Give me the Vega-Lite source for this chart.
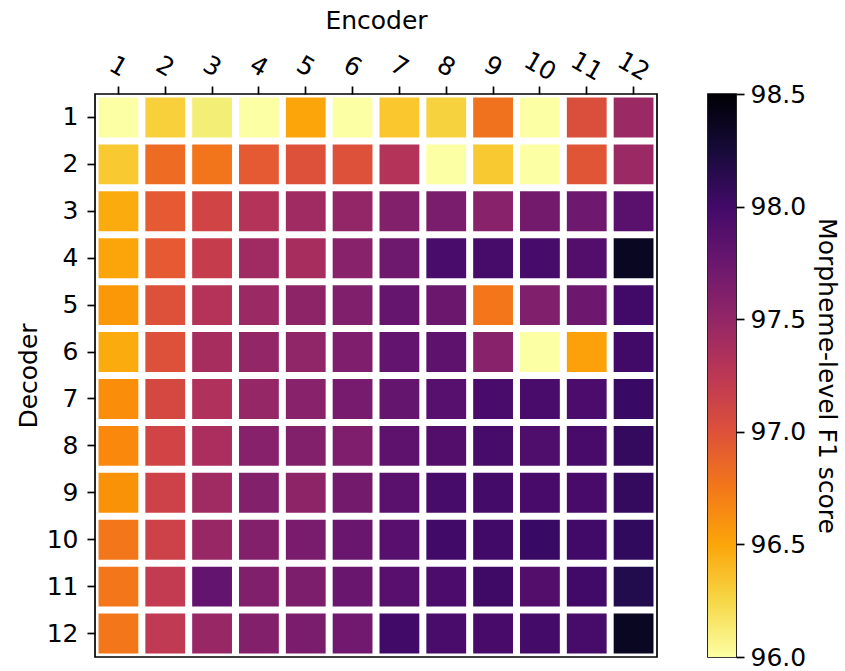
{
  "$schema": "https://vega.github.io/schema/vega-lite/v6.json",
  "autosize": {"type": "pad"},
  "padding": {"left": 15, "top": 7, "right": 0, "bottom": 5},
  "background": "white",
  "spacing": 49,
  "config": {
    "font": "DejaVu Sans",
    "view": {"stroke": "black", "strokeWidth": 1.7},
    "axis": {"labelFont": "DejaVu Sans", "titleFont": "DejaVu Sans", "labelFontSize": 25, "titleFontSize": 25, "titleFontWeight": "normal", "labelColor": "black", "titleColor": "black", "tickColor": "black", "tickSize": 8, "tickWidth": 1.7, "domain": false, "grid": false}
  },
  "hconcat": [
    {
      "width": 562,
      "height": 563,
      "data": {"values": [
        {"dec":1,"enc":1,"f1":96.0},{"dec":1,"enc":2,"f1":96.28},{"dec":1,"enc":3,"f1":96.12},{"dec":1,"enc":4,"f1":96.0},{"dec":1,"enc":5,"f1":96.5},{"dec":1,"enc":6,"f1":96.0},{"dec":1,"enc":7,"f1":96.33},{"dec":1,"enc":8,"f1":96.27},{"dec":1,"enc":9,"f1":96.78},{"dec":1,"enc":10,"f1":96.0},{"dec":1,"enc":11,"f1":97.02},{"dec":1,"enc":12,"f1":97.45},
        {"dec":2,"enc":1,"f1":96.32},{"dec":2,"enc":2,"f1":96.82},{"dec":2,"enc":3,"f1":96.76},{"dec":2,"enc":4,"f1":96.93},{"dec":2,"enc":5,"f1":97.0},{"dec":2,"enc":6,"f1":97.0},{"dec":2,"enc":7,"f1":97.3},{"dec":2,"enc":8,"f1":96.0},{"dec":2,"enc":9,"f1":96.32},{"dec":2,"enc":10,"f1":96.0},{"dec":2,"enc":11,"f1":96.97},{"dec":2,"enc":12,"f1":97.45},
        {"dec":3,"enc":1,"f1":96.47},{"dec":3,"enc":2,"f1":96.93},{"dec":3,"enc":3,"f1":97.1},{"dec":3,"enc":4,"f1":97.3},{"dec":3,"enc":5,"f1":97.42},{"dec":3,"enc":6,"f1":97.5},{"dec":3,"enc":7,"f1":97.6},{"dec":3,"enc":8,"f1":97.65},{"dec":3,"enc":9,"f1":97.57},{"dec":3,"enc":10,"f1":97.7},{"dec":3,"enc":11,"f1":97.73},{"dec":3,"enc":12,"f1":97.85},
        {"dec":4,"enc":1,"f1":96.5},{"dec":4,"enc":2,"f1":96.93},{"dec":4,"enc":3,"f1":97.18},{"dec":4,"enc":4,"f1":97.42},{"dec":4,"enc":5,"f1":97.38},{"dec":4,"enc":6,"f1":97.57},{"dec":4,"enc":7,"f1":97.73},{"dec":4,"enc":8,"f1":97.95},{"dec":4,"enc":9,"f1":97.97},{"dec":4,"enc":10,"f1":97.97},{"dec":4,"enc":11,"f1":97.9},{"dec":4,"enc":12,"f1":98.35},
        {"dec":5,"enc":1,"f1":96.57},{"dec":5,"enc":2,"f1":97.0},{"dec":5,"enc":3,"f1":97.3},{"dec":5,"enc":4,"f1":97.45},{"dec":5,"enc":5,"f1":97.53},{"dec":5,"enc":6,"f1":97.62},{"dec":5,"enc":7,"f1":97.78},{"dec":5,"enc":8,"f1":97.75},{"dec":5,"enc":9,"f1":96.75},{"dec":5,"enc":10,"f1":97.62},{"dec":5,"enc":11,"f1":97.74},{"dec":5,"enc":12,"f1":98.0},
        {"dec":6,"enc":1,"f1":96.47},{"dec":6,"enc":2,"f1":97.0},{"dec":6,"enc":3,"f1":97.38},{"dec":6,"enc":4,"f1":97.5},{"dec":6,"enc":5,"f1":97.52},{"dec":6,"enc":6,"f1":97.63},{"dec":6,"enc":7,"f1":97.8},{"dec":6,"enc":8,"f1":97.83},{"dec":6,"enc":9,"f1":97.57},{"dec":6,"enc":10,"f1":96.0},{"dec":6,"enc":11,"f1":96.52},{"dec":6,"enc":12,"f1":98.0},
        {"dec":7,"enc":1,"f1":96.62},{"dec":7,"enc":2,"f1":97.07},{"dec":7,"enc":3,"f1":97.32},{"dec":7,"enc":4,"f1":97.48},{"dec":7,"enc":5,"f1":97.57},{"dec":7,"enc":6,"f1":97.68},{"dec":7,"enc":7,"f1":97.79},{"dec":7,"enc":8,"f1":97.87},{"dec":7,"enc":9,"f1":97.95},{"dec":7,"enc":10,"f1":97.95},{"dec":7,"enc":11,"f1":97.94},{"dec":7,"enc":12,"f1":98.05},
        {"dec":8,"enc":1,"f1":96.65},{"dec":8,"enc":2,"f1":97.1},{"dec":8,"enc":3,"f1":97.36},{"dec":8,"enc":4,"f1":97.58},{"dec":8,"enc":5,"f1":97.6},{"dec":8,"enc":6,"f1":97.63},{"dec":8,"enc":7,"f1":97.83},{"dec":8,"enc":8,"f1":97.9},{"dec":8,"enc":9,"f1":97.97},{"dec":8,"enc":10,"f1":97.92},{"dec":8,"enc":11,"f1":97.96},{"dec":8,"enc":12,"f1":98.08},
        {"dec":9,"enc":1,"f1":96.6},{"dec":9,"enc":2,"f1":97.12},{"dec":9,"enc":3,"f1":97.42},{"dec":9,"enc":4,"f1":97.6},{"dec":9,"enc":5,"f1":97.53},{"dec":9,"enc":6,"f1":97.7},{"dec":9,"enc":7,"f1":97.85},{"dec":9,"enc":8,"f1":97.97},{"dec":9,"enc":9,"f1":97.98},{"dec":9,"enc":10,"f1":97.96},{"dec":9,"enc":11,"f1":97.96},{"dec":9,"enc":12,"f1":98.08},
        {"dec":10,"enc":1,"f1":96.75},{"dec":10,"enc":2,"f1":97.12},{"dec":10,"enc":3,"f1":97.47},{"dec":10,"enc":4,"f1":97.6},{"dec":10,"enc":5,"f1":97.66},{"dec":10,"enc":6,"f1":97.77},{"dec":10,"enc":7,"f1":97.87},{"dec":10,"enc":8,"f1":98.0},{"dec":10,"enc":9,"f1":98.0},{"dec":10,"enc":10,"f1":98.05},{"dec":10,"enc":11,"f1":98.0},{"dec":10,"enc":12,"f1":98.1},
        {"dec":11,"enc":1,"f1":96.75},{"dec":11,"enc":2,"f1":97.2},{"dec":11,"enc":3,"f1":97.8},{"dec":11,"enc":4,"f1":97.62},{"dec":11,"enc":5,"f1":97.64},{"dec":11,"enc":6,"f1":97.77},{"dec":11,"enc":7,"f1":97.87},{"dec":11,"enc":8,"f1":97.94},{"dec":11,"enc":9,"f1":98.02},{"dec":11,"enc":10,"f1":97.9},{"dec":11,"enc":11,"f1":98.0},{"dec":11,"enc":12,"f1":98.17},
        {"dec":12,"enc":1,"f1":96.75},{"dec":12,"enc":2,"f1":97.22},{"dec":12,"enc":3,"f1":97.47},{"dec":12,"enc":4,"f1":97.6},{"dec":12,"enc":5,"f1":97.65},{"dec":12,"enc":6,"f1":97.72},{"dec":12,"enc":7,"f1":98.0},{"dec":12,"enc":8,"f1":97.95},{"dec":12,"enc":9,"f1":97.96},{"dec":12,"enc":10,"f1":97.98},{"dec":12,"enc":11,"f1":97.97},{"dec":12,"enc":12,"f1":98.35}
      ]},
      "mark": {"type": "rect", "strokeWidth": 0},
      "encoding": {
        "x": {
          "field": "enc", "type": "ordinal",
          "scale": {"domain": [1,2,3,4,5,6,7,8,9,10,11,12], "paddingInner": 0.15, "paddingOuter": 0.075},
          "axis": {"orient": "top", "title": "Encoder", "labelAngle": 30, "labelAlign": "center", "labelBaseline": "middle", "labelPadding": 20, "titleY": -74, "titleBaseline": "middle"}
        },
        "y": {
          "field": "dec", "type": "ordinal",
          "scale": {"domain": [1,2,3,4,5,6,7,8,9,10,11,12], "paddingInner": 0.15, "paddingOuter": 0.075},
          "axis": {"orient": "left", "title": "Decoder", "labelAngle": 0, "labelPadding": 9, "titleX": -67, "titleBaseline": "middle"}
        },
        "color": {
          "field": "f1", "type": "quantitative",
          "scale": {"scheme": "inferno", "reverse": true, "domain": [96.0, 98.5], "clamp": true},
          "legend": null
        }
      }
    },
    {
      "width": 28,
      "height": 563,
      "data": {"values": [{"lo": 96.0, "hi": 98.5}]},
      "mark": {
        "type": "rect",
        "color": {
          "gradient": "linear", "x1": 0, "y1": 1, "x2": 0, "y2": 0,
          "stops": [
            {"offset": 0.0, "color": "#fcffa4"},
            {"offset": 0.1, "color": "#f6d746"},
            {"offset": 0.2, "color": "#fca50a"},
            {"offset": 0.3, "color": "#f37819"},
            {"offset": 0.4, "color": "#dd513a"},
            {"offset": 0.5, "color": "#bc3754"},
            {"offset": 0.6, "color": "#932667"},
            {"offset": 0.7, "color": "#6a176e"},
            {"offset": 0.8, "color": "#420a68"},
            {"offset": 0.9, "color": "#160b39"},
            {"offset": 1.0, "color": "#000004"}
          ]
        }
      },
      "encoding": {
        "y": {
          "field": "lo", "type": "quantitative",
          "scale": {"domain": [96.0, 98.5], "nice": false, "zero": false},
          "axis": {"orient": "right", "values": [96.0, 96.5, 97.0, 97.5, 98.0, 98.5], "format": ".1f", "labelPadding": 6, "title": "Morpheme-level F1 score", "titleAngle": 90, "titlePadding": 8, "labelFlush": false}
        },
        "y2": {"field": "hi"}
      }
    }
  ]
}
